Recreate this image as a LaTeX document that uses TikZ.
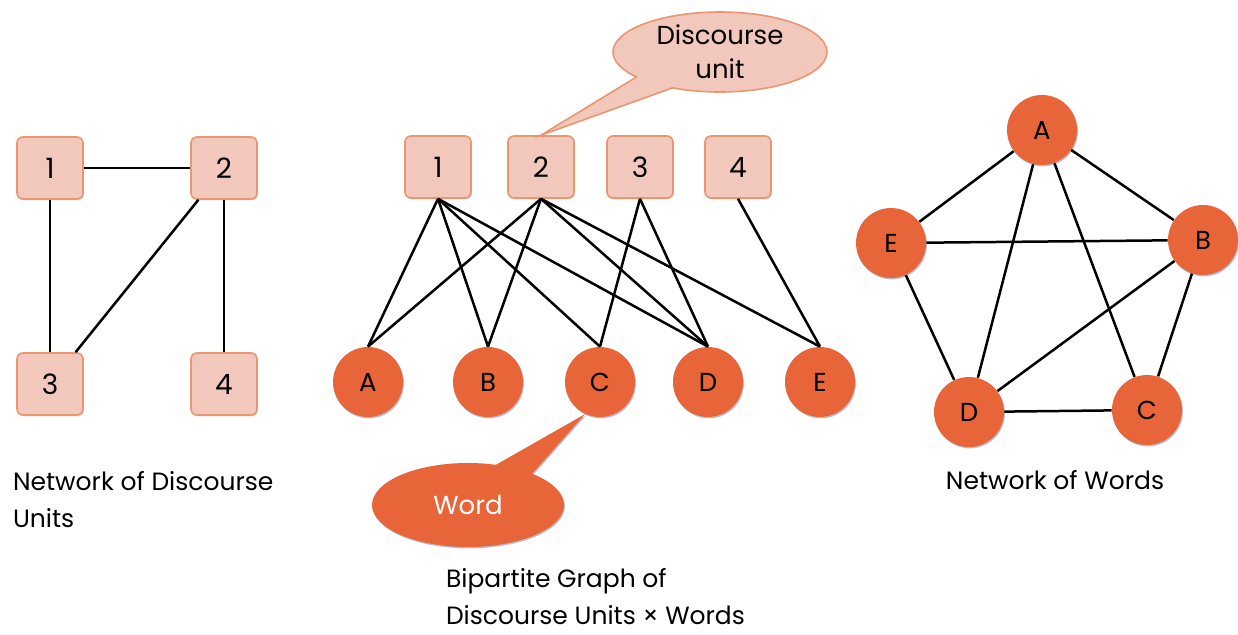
\documentclass[tikz,border=0pt]{standalone}
\usepackage{fontspec}
\setmainfont{Poppins}
\usetikzlibrary{shapes.callouts,shadows}
\definecolor{unitfill}{RGB}{242,200,188}
\definecolor{unitdraw}{RGB}{234,150,112}
\definecolor{wordfill}{RGB}{232,101,58}
\definecolor{shade}{RGB}{110,130,160}
\begin{document}
\begin{tikzpicture}[x=0.5pt,y=-0.5pt,
        unit/.style={draw=unitdraw,fill=unitfill,line width=0.8pt,rounded corners=3pt,
                minimum width=33pt,minimum height=31pt,font=\fontsize{14}{16}\selectfont,
                drop shadow={shadow xshift=0.5pt,shadow yshift=-0.7pt,fill=shade,opacity=0.3}},
        word/.style={circle,fill=wordfill,minimum size=35pt,inner sep=0pt,
                font=\fontsize{13}{15}\selectfont,
                drop shadow={shadow xshift=0.5pt,shadow yshift=-0.7pt,fill=shade,opacity=0.5}},
        wire/.style={line width=1.25pt},
        caption/.style={font=\fontsize{12.5}{18.5}\selectfont,align=left}]
        \useasboundingbox (0,0) rectangle (1238,634);

        % network of discourse units
        \node[unit]     at (50,168)     (u_1)   {1};
        \node[unit]     at (224,168)    (u_2)   {2};
        \node[unit]     at (50,384)     (u_3)   {3};
        \node[unit]     at (224,384)    (u_4)   {4};
        \path[wire] (u_1) edge (u_2) edge (u_3)
                    (u_2) edge (u_3) edge (u_4);
        \node[caption,anchor=west] at (6,500) (cap_u) {Network of Discourse\\Units};

        % bipartite graph
        \node[unit]     at (438,167)    (b_1)   {1};
        \node[unit]     at (541,167)    (b_2)   {2};
        \node[unit]     at (640,167)    (b_3)   {3};
        \node[unit]     at (738,167)    (b_4)   {4};
        \node[word]     at (368,382)    (w_A)   {A};
        \node[word]     at (488,382)    (w_B)   {B};
        \node[word]     at (600,382)    (w_C)   {C};
        \node[word]     at (708,382)    (w_D)   {D};
        \node[word]     at (820,382)    (w_E)   {E};
        \path[wire]
        (b_1.south) edge (w_A.north) edge (w_B.north) edge (w_C.north) edge (w_D.north)
        (b_2.south) edge (w_A.north) edge (w_B.north) edge (w_D.north) edge (w_E.north)
        (b_3.south) edge (w_C.north) edge (w_D.north)
        (b_4.south) edge (w_E.north);
        \node[caption,anchor=west] at (439,597) (cap_b) {Bipartite Graph of\\Discourse Units × Words};

        % callouts
        \node[ellipse callout,draw=unitdraw,fill=unitfill,line width=0.8pt,
              minimum width=107pt,minimum height=40pt,inner sep=0pt,align=center,
              font=\fontsize{13}{17}\selectfont,callout pointer arc=25,
              callout absolute pointer=(b_2.north)] at (720,52) (c_unit) {Discourse\\unit};
        \node[ellipse callout,fill=wordfill,text=white,
              minimum width=96pt,minimum height=42pt,inner sep=0pt,
              font=\fontsize{13}{15}\selectfont,callout pointer arc=25,
              drop shadow={shadow xshift=0.5pt,shadow yshift=-0.7pt,fill=shade,opacity=0.5},
              callout absolute pointer=(w_C.245)] at (468,505) (c_word) {Word};

        % network of words
        \node[word]     at (1042,130)   (n_A)   {A};
        \node[word]     at (1203,240)   (n_B)   {B};
        \node[word]     at (1147,410)   (n_C)   {C};
        \node[word]     at (969,412)    (n_D)   {D};
        \node[word]     at (891,243)    (n_E)   {E};
        \path[wire] (n_A) edge (n_B) edge (n_C) edge (n_D) edge (n_E)
                    (n_B) edge (n_C) edge (n_D) edge (n_E)
                    (n_D) edge (n_C) edge (n_E);
        \node[caption] at (1055,480) (cap_n) {Network of Words};
\end{tikzpicture}
\end{document}
